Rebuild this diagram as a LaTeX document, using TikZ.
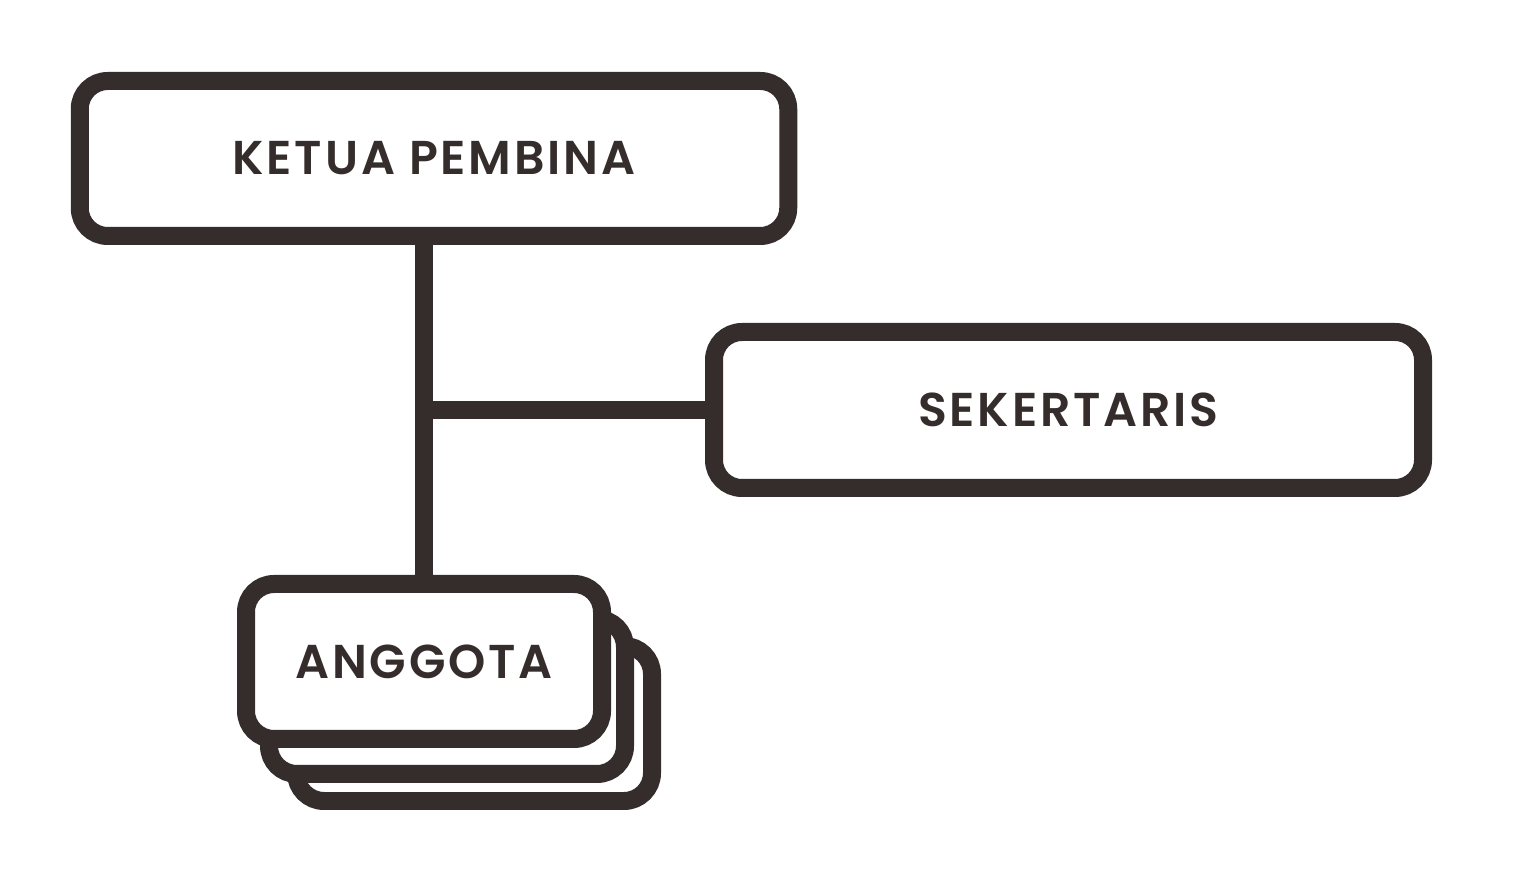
\documentclass[tikz,border=0pt]{standalone}
\usepackage{fontspec}
\setmainfont{Poppins}
\newfontfamily\judul[LetterSpace=6]{Poppins SemiBold}
\definecolor{tinta}{HTML}{342D2C}
\tikzset{
  kotak/.style={draw=tinta, line width=0.18cm, rounded corners=0.28cm, fill=white,
    text=tinta, font=\judul\fontsize{13.5pt}{15pt}\selectfont},
  garis/.style={draw=tinta, line width=0.18cm}
}
\begin{document}
\begin{tikzpicture}
    \useasboundingbox (0,0) rectangle (15.13,8.69);
    % kotak ketua dan sekertaris
    \node[kotak, minimum width=7.085cm, minimum height=1.55cm] (ketua) at (4.34,7.105) {KETUA PEMBINA};
    \node[kotak, minimum width=7.09cm, minimum height=1.56cm] (sekertaris) at (10.685,4.59) {SEKERTARIS};
    % tumpukan anggota
    \node[kotak, minimum width=3.56cm, minimum height=1.55cm] (anggota3) at (4.74,1.455) {};
    \node[kotak, minimum width=3.56cm, minimum height=1.55cm] (anggota2) at (4.47,1.725) {};
    \node[kotak, minimum width=3.56cm, minimum height=1.55cm] (anggota) at (4.24,2.075) {ANGGOTA};
    % garis
    \draw[garis] (anggota.north |- ketua.south) -- (anggota.north);
    \draw[garis] (sekertaris.west) -- (sekertaris.west -| anggota.north);
\end{tikzpicture}
\end{document}
